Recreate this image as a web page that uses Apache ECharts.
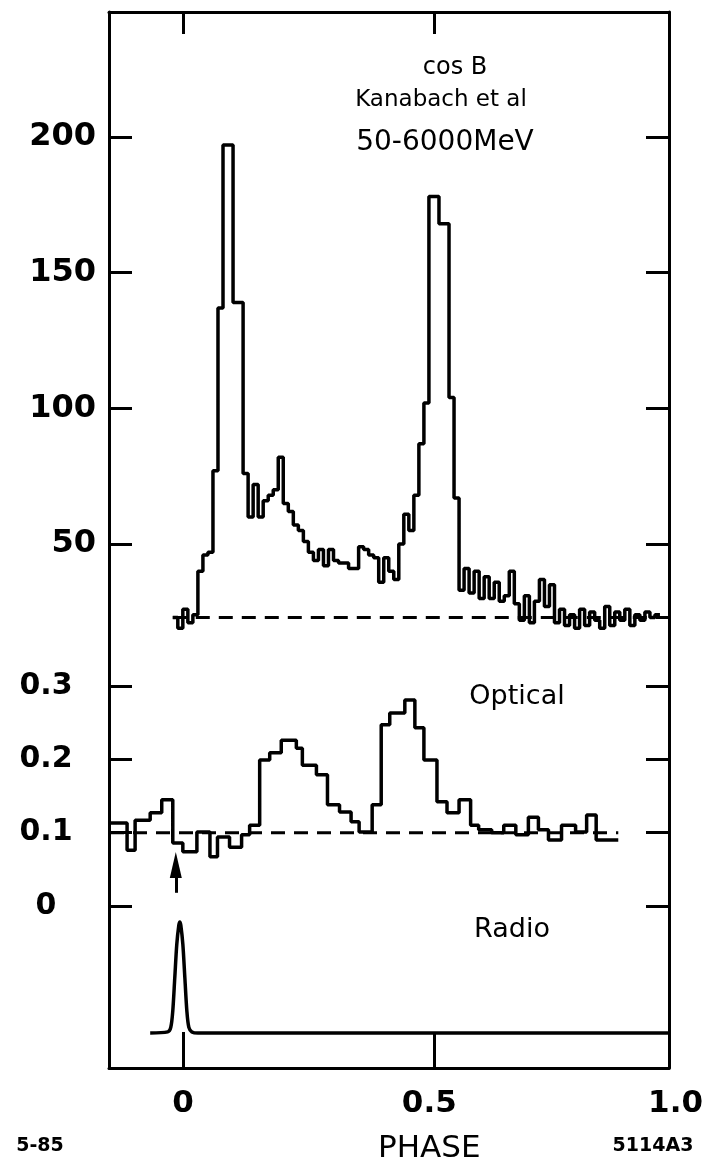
<!DOCTYPE html>
<html><head><meta charset="utf-8">
<script src="https://cdn.jsdelivr.net/npm/echarts@6/dist/echarts.min.js"></script>
<style>html,body{margin:0;padding:0;background:#fff}#c{width:706px;height:1169px}</style>
</head><body><div id="c"></div>
<script>
// ---------------- data ----------------
const gammaStart = -0.02;           // first bin left edge (phase)
const gammaBin = 0.01;              // bin width (phase)
const gammaCounts = [
  23,19,26,21,24,40,46,47,77,137,
  197,197,139,139,76,60,72,60,66,68,
  70,82,65,62,57,55,51,47,44,48,
  42,48,44,43,43,41,41,49,48,46,
  45,36,45,40,37,50,61,55,68,87,
  102,178,178,168,168,104,67,33,41,32,
  40,30,38,30,36,29,31,40,28,22,
  31,21,29,37,27,35,21,26,20,24,
  19,26,20,25,22,19,27,20,25,22,
  26,20,24,22,25,23,24
];
const gammaBaseline = 23;
const opticalEdges = [-0.145,-0.111,-0.095,-0.065,-0.042,-0.020,0.000,0.028,0.054,0.069,
  0.093,0.117,0.133,0.153,0.173,0.196,0.226,0.238,0.266,0.288,
  0.312,0.335,0.351,0.377,0.395,0.412,0.442,0.462,0.480,0.506,
  0.526,0.550,0.573,0.589,0.615,0.639,0.663,0.688,0.708,0.728,
  0.754,0.782,0.804,0.823,0.867];
const opticalFlux = [0.113,0.076,0.117,0.127,0.145,0.086,0.074,0.101,0.067,0.094,
  0.080,0.097,0.110,0.199,0.209,0.226,0.215,0.192,0.179,0.138,
  0.128,0.115,0.101,0.138,0.247,0.263,0.281,0.243,0.199,0.142,
  0.127,0.145,0.110,0.104,0.100,0.110,0.097,0.121,0.104,0.090,
  0.110,0.101,0.124,0.090];
const opticalBaseline = 0.1;
const radioPhase = [-0.065,-0.03,-0.024,-0.020,-0.016,-0.012,-0.008,-0.006,-0.004,0.000,0.004,0.008,0.012,0.018,0.03,0.966];
const radioIntensity = [0,0.01,0.05,0.2,0.5,0.8,0.97,1.0,0.97,0.8,0.5,0.2,0.05,0.01,0,0];
const gammaTicks = [50,100,150,200];
const opticalTicks = [0,0.1,0.2,0.3];
const phaseTicks = [0,0.5];
const phaseLabels = [0,0.5,1];

// ---------------- build ----------------
const XMIN = -0.147, XMAX = 0.968;
const BLACK = '#000';
const FONT = 'DejaVu Sans';

const gammaData = gammaCounts.map((v,i)=>[gammaStart+i*gammaBin, v]);
gammaData.push([gammaStart+gammaCounts.length*gammaBin, gammaCounts[gammaCounts.length-1]]);
const opticalData = opticalFlux.map((v,i)=>[opticalEdges[i], v]);
opticalData.push([opticalEdges[opticalEdges.length-1], opticalFlux[opticalFlux.length-1]]);
const radioData = radioPhase.map((p,i)=>[p, radioIntensity[i]]);

const hiddenX = g => ({type:'value', gridIndex:g, min:XMIN, max:XMAX, show:false});
const tickY = (g, pos, min, max, ticks, labels, labelOpts) => ({
  type:'value', gridIndex:g, position:pos, min, max,
  axisLine:{show:false, onZero:false},
  splitLine:{show:false},
  axisTick:{show:true, inside:true, length:23, customValues:ticks, lineStyle:{color:BLACK, width:3}},
  axisLabel:Object.assign({show:labels, customValues:ticks, margin:13, color:BLACK, fontSize:32, fontWeight:'bold', fontFamily:FONT,
    formatter: v => (max < 1 ? (v===0 ? '0' : v.toFixed(1)) : String(v))}, labelOpts||{})
});
const txt = (text, x, y, size, weight) => ({type:'text', x, y, silent:true,
  style:{text, textAlign:'center', textVerticalAlign:'middle', fill:BLACK, fontSize:size, fontWeight:weight||'normal', fontFamily:FONT}});

const option = {
  animation:false,
  backgroundColor:'#fff',
  grid:[
    {left:109, top:12, width:560, height:638},
    {left:109, top:650, width:560, height:300},
    {left:109, top:880, width:560, height:188},
    {left:109, top:12, width:560, height:1056},
    {left:183, top:12, width:502, height:1056}
  ],
  xAxis:[
    hiddenX(0), hiddenX(1), hiddenX(2),
    {type:'value', gridIndex:3, position:'bottom', min:XMIN, max:XMAX,
      axisLine:{show:true, onZero:false, lineStyle:{color:BLACK, width:3}},
      axisTick:{show:true, inside:true, length:36, customValues:phaseTicks, lineStyle:{color:BLACK, width:3}},
      axisLabel:{show:false}, splitLine:{show:false}},
    {type:'value', gridIndex:3, position:'top', min:XMIN, max:XMAX,
      axisLine:{show:true, onZero:false, lineStyle:{color:BLACK, width:3}},
      axisTick:{show:true, inside:true, length:22, customValues:phaseTicks, lineStyle:{color:BLACK, width:3}},
      axisLabel:{show:false}, splitLine:{show:false}},
    {type:'value', gridIndex:4, position:'bottom', min:0, max:1,
      axisLine:{show:false, onZero:false}, axisTick:{show:false}, splitLine:{show:false},
      axisLabel:{show:true, customValues:phaseLabels, margin:21, color:BLACK, fontSize:31, fontWeight:'bold', fontFamily:FONT,
        formatter: v => v===1 ? '1.0' : String(v)},
      name:'PHASE', nameLocation:'middle', nameGap:66,
      nameTextStyle:{color:BLACK, fontSize:31, fontFamily:FONT}}
  ],
  yAxis:[
    tickY(0,'left',11,246,gammaTicks,true),
    tickY(0,'right',11,246,gammaTicks,false),
    tickY(1,'left',-0.06,0.349,opticalTicks,true,{align:'center', margin:63, fontSize:30}),
    tickY(1,'right',-0.06,0.349,opticalTicks,false),
    {type:'value', gridIndex:2, min:-0.315, max:1.378, show:false},
    {type:'value', gridIndex:3, position:'left', min:0, max:1,
      axisLine:{show:true, onZero:false, lineStyle:{color:BLACK, width:3}},
      axisTick:{show:false}, axisLabel:{show:false}, splitLine:{show:false}},
    {type:'value', gridIndex:3, position:'right', min:0, max:1,
      axisLine:{show:true, onZero:false, lineStyle:{color:BLACK, width:3}},
      axisTick:{show:false}, axisLabel:{show:false}, splitLine:{show:false}},
    {type:'value', gridIndex:4, min:0, max:1, show:false}
  ],
  series:[
    {type:'line', name:'gamma', xAxisIndex:0, yAxisIndex:0, step:'end', data:gammaData,
      symbol:'none', lineStyle:{color:BLACK, width:3.5}, z:3},
    {type:'line', name:'gammaBase', xAxisIndex:0, yAxisIndex:0,
      data:[[gammaStart, gammaBaseline],[XMAX, gammaBaseline]],
      symbol:'none', lineStyle:{color:BLACK, width:3, type:[14,9]}, z:2},
    {type:'line', name:'optical', xAxisIndex:1, yAxisIndex:2, step:'end', data:opticalData,
      symbol:'none', lineStyle:{color:BLACK, width:3.5}, z:3,
      markLine:{silent:true, symbol:['none','triangle'], symbolSize:[12,26],
        label:{show:false}, lineStyle:{color:BLACK, width:3, type:'solid'},
        data:[[{coord:[-0.014, 0.018]},{coord:[-0.014, 0.056]}]]}},
    {type:'line', name:'opticalBase', xAxisIndex:1, yAxisIndex:2,
      data:[[opticalEdges[0], opticalBaseline],[opticalEdges[opticalEdges.length-1], opticalBaseline]],
      symbol:'none', lineStyle:{color:BLACK, width:3, type:[14,9]}, z:2},
    {type:'line', name:'radio', xAxisIndex:2, yAxisIndex:4, data:radioData, smooth:0.3,
      symbol:'none', lineStyle:{color:BLACK, width:3.5}, z:3}
  ],
  graphic:[
    txt('cos B', 455, 68, 24),
    txt('Kanabach et al', 441, 100, 23),
    txt('50-6000MeV', 445, 143, 28),
    txt('Optical', 517, 697, 27),
    txt('Radio', 512, 930, 27),
    txt('5-85', 40, 1146, 19, 'bold'),
    txt('5114A3', 653, 1146, 19, 'bold')
  ]
};
const chart = echarts.init(document.getElementById('c'), null, {renderer:'canvas'});
chart.setOption(option);
</script></body></html>
